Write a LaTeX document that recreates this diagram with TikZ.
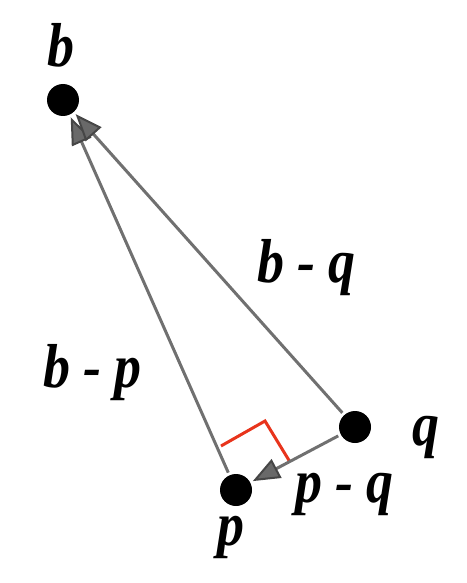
\documentclass[tikz,border=0pt]{standalone}
\usepackage{fontspec}
\setmainfont{Liberation Serif}
\usetikzlibrary{arrows.meta}
\definecolor{linegray}{RGB}{112,112,112}
\definecolor{tipgray}{RGB}{105,105,105}
\definecolor{tipedge}{RGB}{70,70,70}
\definecolor{angred}{RGB}{232,52,28}
\newcommand{\labtxt}[1]{\scalebox{1}[1.15]{#1}}
\tikzset{
  dot/.style={circle,fill=black,minimum size=32pt,inner sep=0pt,outer sep=3pt},
  vec/.style={draw=linegray,line width=3pt,
    -{Triangle[length=27pt,width=21pt,line width=2pt,fill=tipgray,color=tipedge]}},
  lab/.style={anchor=base,inner sep=0pt,font=\fontsize{54}{60}\selectfont\bfseries\itshape},
  rightangle/.style={draw=angred,line width=3pt}
}
\begin{document}
\begin{tikzpicture}[x=1pt,y=-1pt]
\useasboundingbox (0,0) rectangle (466,583);
\node[dot] (b) at (63,100) {};
\node[dot] (p) at (236,490) {};
\node[dot] (q) at (355,427) {};
\coordinate (r1) at (221,446);
\coordinate (r2) at (265,421);
\coordinate (r3) at (290,462);
\draw[rightangle] (r1) -- (r2) -- (r3);
\draw[vec] (p) -- (b);
\draw[vec] (q) -- (b);
\draw[vec] (q) -- (p);
\node[lab] (lb) at (60.5,67) {\labtxt{b}};
\node[lab] (lbq) at (306.5,282) {\labtxt{b - q}};
\node[lab] (lbp) at (92.5,387) {\labtxt{b - p}};
\node[lab] (lq) at (425.5,445) {\labtxt{q}};
\node[lab] (lpq) at (344.5,502) {\labtxt{p - q}};
\node[lab] (lp) at (230.5,545) {\labtxt{p}};
\end{tikzpicture}
\end{document}
